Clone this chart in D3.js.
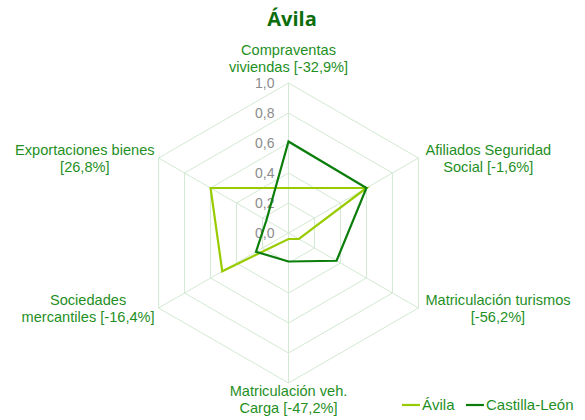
<!DOCTYPE html>
<html>
<head>
<meta charset="utf-8">
<script src="https://cdn.jsdelivr.net/npm/d3@7"></script>
<style>
  body { margin: 0; background: #fff; }
  text { font-family: "Liberation Sans", Arial, sans-serif; }
</style>
</head>
<body>
<svg id="chart" width="585" height="420"></svg>
<script>
// data ---------------------------------
var axes = [
  ["Compraventas", "viviendas [-32,9%]"],
  ["Afiliados Seguridad", "Social [-1,6%]"],
  ["Matriculación turismos", "[-56,2%]"],
  ["Matriculación veh.", "Carga [-47,2%]"],
  ["Sociedades", "mercantiles [-16,4%]"],
  ["Exportaciones bienes", "[26,8%]"]
]
var seriesNames = ["Ávila", "Castilla-León"]
var avila      = [0.30, 0.60, 0.08, 0.04, 0.51, 0.60]
var castilla   = [0.61, 0.60, 0.37, 0.19, 0.25, 0.17]
var ticks = [0, 0.2, 0.4, 0.6, 0.8, 1.0]

var colors = ["#99cc00", "#0a7d0a"]
var labelColor = "#1f8f1f"

var svg = d3.select("#chart"),
  cx = 288.5, cy = 233, radius = 150

var r = d3.scaleLinear().domain([0, 1]).range([0, radius])
var angle = d3.scaleLinear().domain([0, axes.length]).range([0, 2 * Math.PI])

function pt(i, v) {
  var a = angle(i)
  return [cx + Math.sin(a) * r(v), cy - Math.cos(a) * r(v)]
}

// title
svg.append("text")
  .attr("x", 292).attr("y", 26)
  .attr("text-anchor", "middle")
  .style("font-family", "'Open Sans', sans-serif")
  .style("font-weight", "bold")
  .style("font-size", "20px")
  .attr("fill", "#0b6e0b")
  .text("Ávila")

// grid
var grid = svg.append("g")
grid.selectAll("polygon")
  .data(ticks.slice(1))
  .enter().append("polygon")
  .attr("points", v => axes.map((d, i) => pt(i, v).join(",")).join(" "))
  .attr("fill", "none")
  .attr("stroke", "#d3e9d3")
  .attr("stroke-width", 1)

grid.selectAll("line")
  .data(axes)
  .enter().append("line")
  .attr("x1", cx).attr("y1", cy)
  .attr("x2", (d, i) => pt(i, 1)[0])
  .attr("y2", (d, i) => pt(i, 1)[1])
  .attr("stroke", "#d3e9d3")

// tick labels
svg.append("g").selectAll("text")
  .data(ticks)
  .enter().append("text")
  .attr("x", cx - 14)
  .attr("y", d => cy - r(d))
  .attr("dy", "0.35em")
  .attr("text-anchor", "end")
  .attr("fill", "#8c8c8c")
  .style("font-size", "14px")
  .text(d => d3.format(".1f")(d).replace(".", ","))

// axis labels
var lh = 17
svg.append("g").selectAll("text")
  .data(axes)
  .enter().append("text")
  .attr("fill", labelColor)
  .style("font-size", "14.6px")
  .attr("text-anchor", "middle")
  .each(function(d, i) {
    var t = d3.select(this)
    d.forEach((s, k) => t.append("tspan").attr("x", 0).attr("dy", k ? lh : 0).text(s))
    var w = this.getBBox().width
    var p = pt(i, 1)
    var s = Math.sin(angle(i))
    var x, yc
    if (Math.abs(s) < 0.01) {
      x = p[0]
      yc = i == 0 ? p[1] - 8 - lh : p[1] + 8 + lh / 2
    } else {
      x = s > 0 ? p[0] + 7 + w / 2 : p[0] - 4 - w / 2
      yc = p[1]
    }
    t.attr("transform", `translate(${x},${yc - lh / 2 + 5})`)
  })

// series
var line = d3.line()
var series = [avila, castilla]
svg.append("g").selectAll("path")
  .data(series)
  .enter().append("path")
  .attr("d", d => line(d.map((v, i) => pt(i, v))) + "Z")
  .attr("fill", "none")
  .attr("stroke", (d, i) => colors[i])
  .attr("stroke-width", 2.2)
  .attr("stroke-linejoin", "miter")

// legend
var leg = svg.append("g").selectAll("g")
  .data(seriesNames)
  .enter().append("g")
  .attr("transform", (d, i) => `translate(${i ? 466 : 402},405)`)

leg.append("line")
  .attr("x1", 0).attr("x2", 18)
  .attr("stroke", (d, i) => colors[i])
  .attr("stroke-width", 2.2)

leg.append("text")
  .attr("x", 20).attr("dy", "0.35em")
  .attr("fill", labelColor)
  .style("font-size", "15px")
  .text(d => d)
</script>
</body>
</html>
